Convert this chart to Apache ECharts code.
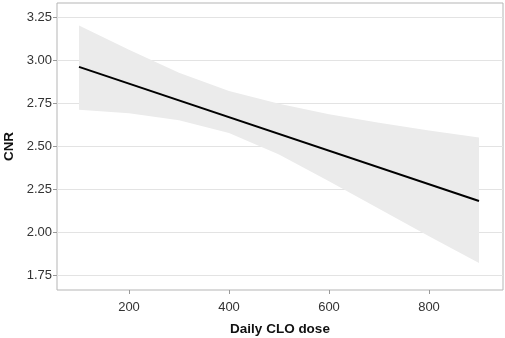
<!DOCTYPE html>
<html>
<head>
<meta charset="utf-8">
<script src="https://cdn.jsdelivr.net/npm/echarts@6/dist/echarts.min.js"></script>
<style>
  html, body { margin: 0; padding: 0; background: #fff; }
</style>
</head>
<body>
<div id="chart" style="width:505px;height:338px;"></div>
<script>
var doseX = [100, 200, 300, 400, 500, 600, 700, 800, 900];
var upperBand = [3.20, 3.06, 2.925, 2.82, 2.745, 2.685, 2.635, 2.59, 2.55];
var lowerBand = [2.71, 2.69, 2.65, 2.575, 2.45, 2.295, 2.135, 1.975, 1.82];
// fitted line ends
var fitX = [100, 900];
var fitY = [2.96, 2.18];
var xTicks = [200, 400, 600, 800];
var yTicks = [1.75, 2.00, 2.25, 2.50, 2.75, 3.00, 3.25];

var chart = echarts.init(document.getElementById('chart'));

// one row per dose: x, lower, upper
var bandData = doseX.map(function (x, i) { return [x, lowerBand[i], upperBand[i]]; });

var labelFont = 'Liberation Sans, Arial, sans-serif';

var option = {
  animation: false,
  grid: {
    left: 57, right: 2, top: 3, bottom: 48,
    outerBoundsMode: 'none',
    containLabel: false,
    show: true,
    borderColor: '#b5b5b5',
    borderWidth: 1
  },
  xAxis: {
    type: 'value',
    min: 56, max: 948,
    name: 'Daily CLO dose',
    nameLocation: 'middle',
    nameGap: 32,
    nameTextStyle: { fontFamily: labelFont, fontSize: 13.5, fontWeight: 'bold', color: '#111' },
    axisLine: { show: false },
    axisTick: { show: true, length: 4, lineStyle: { color: '#999' }, customValues: xTicks },
    axisLabel: { customValues: xTicks, fontFamily: labelFont, fontSize: 13, color: '#333', margin: 11 },
    splitLine: { show: false }
  },
  yAxis: {
    type: 'value',
    min: 1.663, max: 3.331,
    name: 'CNR',
    nameLocation: 'middle',
    nameGap: 40,
    nameRotate: 90,
    nameTextStyle: { fontFamily: labelFont, fontSize: 13.5, fontWeight: 'bold', color: '#111' },
    axisLine: { show: false },
    axisTick: { show: true, length: 4, lineStyle: { color: '#999' }, customValues: yTicks },
    axisLabel: {
      customValues: yTicks, fontFamily: labelFont, fontSize: 13, color: '#333', margin: 5,
      formatter: function (v) { return v.toFixed(2); }
    },
    splitLine: { show: true, customValues: yTicks, lineStyle: { color: '#e3e3e3', width: 1 } }
  },
  series: [
    {
      // confidence band as a polygon: upper edge left to right, lower edge back
      type: 'custom',
      data: bandData,
      renderItem: function (params, api) {
        if (params.dataIndex !== 0) return;
        var up = [], lo = [];
        for (var i = 0; i < bandData.length; i++) {
          up.push(api.coord([bandData[i][0], bandData[i][2]]));
          lo.push(api.coord([bandData[i][0], bandData[i][1]]));
        }
        return {
          type: 'polygon',
          shape: { points: up.concat(lo.reverse()) },
          style: { fill: '#ebebeb' }
        };
      },
      encode: { x: 0, y: [1, 2] },
      silent: true,
      z: 1
    },
    {
      type: 'line',
      data: fitX.map(function (x, i) { return [x, fitY[i]]; }),
      symbol: 'none',
      lineStyle: { color: '#000', width: 2 },
      z: 3
    }
  ]
};

chart.setOption(option);
window.addEventListener('resize', function () { chart.resize(); });
</script>
</body>
</html>
